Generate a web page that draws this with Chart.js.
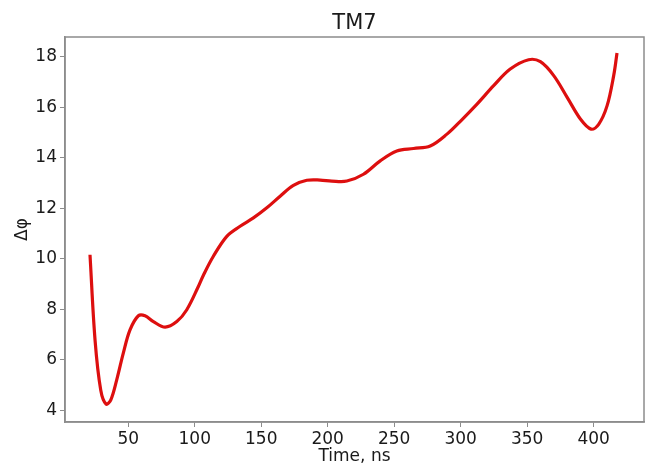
<!DOCTYPE html>
<html>
<head>
<meta charset="utf-8">
<script src="https://cdn.jsdelivr.net/npm/chart.js"></script>
<style>
    html, body { margin: 0; padding: 0; background: #fff; }
    #wrap { width: 648px; height: 467px; }
</style>
</head>
<body>
<div id="wrap"><canvas id="tm7-chart" width="648" height="467"></canvas></div>
<script>
    // values
    const timeNs = [21.2, 25, 29.3, 33.3, 36.8, 41.3, 46.3, 51.3, 57.6, 62.6, 68.9, 77.7, 86.5, 94,
        102.7, 106.5, 114, 124.1, 134.1, 144.1, 154.2, 164.2, 174.2, 184.3, 194.3, 203, 214.4,
        226.9, 239.5, 252, 264.6, 277.1, 289.7, 300.5, 312.3, 324.8, 337.3, 351.1, 360, 370,
        380.1, 390.2, 398.1, 403.8, 410.1, 415.1, 417.6];
    const deltaPhi = [10.16, 6.78, 4.79, 4.24, 4.4, 5.2, 6.27, 7.18, 7.74, 7.74, 7.51, 7.29, 7.51, 7.98,
        8.9, 9.35, 10.1, 10.89, 11.29, 11.62, 12.02, 12.48, 12.91, 13.11, 13.12, 13.08, 13.08,
        13.35, 13.88, 14.27, 14.37, 14.47, 14.94, 15.49, 16.13, 16.86, 17.52, 17.89, 17.81, 17.26,
        16.4, 15.53, 15.14, 15.33, 16.06, 17.26, 18.16];
    const xTicks = [50, 100, 150, 200, 250, 300, 350, 400];
    const yTicks = [4, 6, 8, 10, 12, 14, 16, 18];

    const frameColor = '#8c8c8c';
    const textColor = '#1a1a1a';
    const font = 'DejaVu Sans';

    // frame on all four sides + title centred over the plot area
    const framePlugin = {
        id: 'frame',
        afterDraw(chart) {
            const a = chart.chartArea;
            const ctx = chart.ctx;
            ctx.save();
            ctx.strokeStyle = frameColor;
            ctx.lineWidth = 1.5;
            ctx.strokeRect(a.left, a.top, a.right - a.left, a.bottom - a.top);
            ctx.fillStyle = textColor;
            ctx.font = '21px "DejaVu Sans"';
            ctx.textAlign = 'center';
            ctx.textBaseline = 'middle';
            ctx.fillText('TM7', (a.left + a.right) / 2, 24);
            ctx.restore();
        }
    };

    new Chart(document.getElementById('tm7-chart'), {
        type: 'line',
        data: {
            datasets: [{
                data: timeNs.map((t, i) => ({ x: t, y: deltaPhi[i] })),
                borderColor: '#dd0f0f',
                borderWidth: 3.2,
                pointRadius: 0,
                tension: 0.35,
                fill: false
            }]
        },
        options: {
            responsive: false,
            animation: false,
            layout: { padding: { left: 0, right: 4, top: 37, bottom: 0 } },
            plugins: {
                legend: { display: false },
                tooltip: { enabled: false },
                title: { display: false }
            },
            scales: {
                x: {
                    type: 'linear',
                    min: 2.4,
                    max: 437.9,
                    afterBuildTicks: (s) => { s.ticks = xTicks.map(v => ({ value: v })); },
                    afterFit: (s) => { s.height = 45; },
                    border: { display: true, color: frameColor, width: 1.5 },
                    grid: { drawOnChartArea: false, tickLength: 5, color: frameColor },
                    ticks: { color: textColor, font: { family: font, size: 17 }, padding: 2, maxRotation: 0 },
                    title: {
                        display: true,
                        text: 'Time, ns',
                        color: textColor,
                        font: { family: font, size: 17 },
                        padding: { top: 0, bottom: 0 }
                    }
                },
                y: {
                    min: 3.53,
                    max: 18.79,
                    afterBuildTicks: (s) => { s.ticks = yTicks.map(v => ({ value: v })); },
                    afterFit: (s) => { s.width = 65; },
                    border: { display: true, color: frameColor, width: 1.5 },
                    grid: { drawOnChartArea: false, tickLength: 5, color: frameColor },
                    ticks: { color: textColor, font: { family: font, size: 17 }, padding: 3 },
                    title: {
                        display: true,
                        text: 'Δφ',
                        color: textColor,
                        font: { family: font, size: 17 },
                        padding: { top: 12, bottom: 0 }
                    }
                }
            }
        },
        plugins: [framePlugin]
    });
</script>
</body>
</html>
